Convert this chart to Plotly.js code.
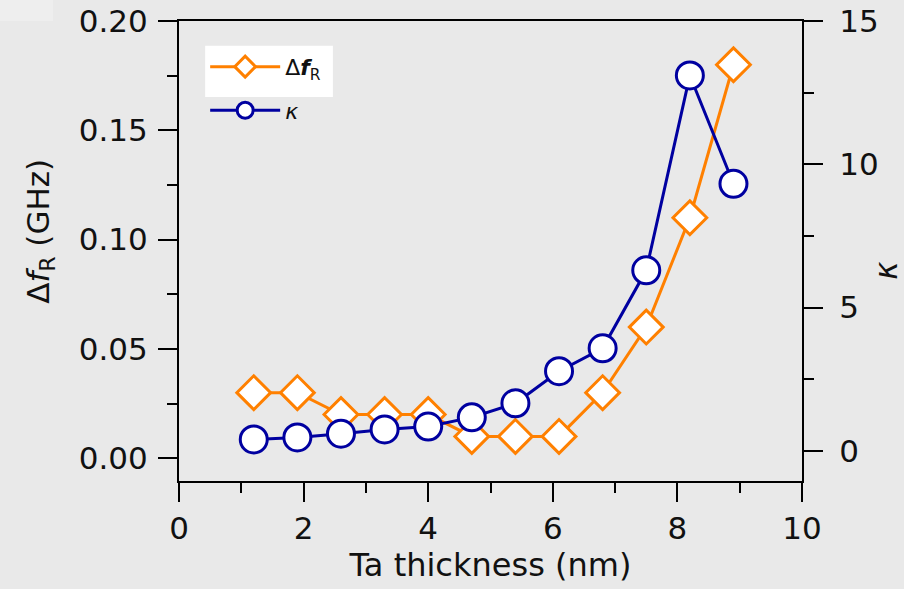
<!DOCTYPE html>
<html>
<head>
<meta charset="utf-8">
<script src="https://cdn.plot.ly/plotly-3.0.1.min.js"></script>
<style>html,body{margin:0;padding:0;background:#e9e9e9;}#chart{width:904px;height:589px;}</style>
</head>
<body>
<div id="chart"></div>
<script>
const thickness = [1.2, 1.9, 2.6, 3.3, 4.0, 4.7, 5.4, 6.1, 6.8, 7.5, 8.2, 8.9];
const deltaFR = [0.03, 0.03, 0.02, 0.02, 0.02, 0.01, 0.01, 0.01, 0.03, 0.06, 0.11, 0.18];
const kappa = [0.40, 0.47, 0.60, 0.75, 0.85, 1.17, 1.66, 2.78, 3.58, 6.3, 13.1, 9.32];
const xTicks = [0, 2, 4, 6, 8, 10];
const yTicks = [0.00, 0.05, 0.10, 0.15, 0.20];
const y2Ticks = [0, 5, 10, 15];

const ORANGE = '#ff8000';
const NAVY = '#0000a0';
const FONT = 'DejaVu Sans, Liberation Sans, Arial, sans-serif';
const PAD = '<span style="color:rgba(0,0,0,0)">00</span>';

const traces = [
  {
    x: thickness, y: deltaFR, name: 'Δ<b><i>f</i></b><sub>R</sub>', legendgroup: 'a',
    type: 'scatter', mode: 'lines+markers', yaxis: 'y',
    line: {color: ORANGE, width: 3},
    marker: {symbol: 'diamond', size: 26, color: 'white', line: {color: ORANGE, width: 3}}
  },
  {
    x: thickness, y: kappa, name: '<i>κ</i>', legendgroup: 'b',
    type: 'scatter', mode: 'lines+markers', yaxis: 'y2',
    line: {color: NAVY, width: 3},
    marker: {symbol: 'circle', size: 27, color: 'white', line: {color: NAVY, width: 3}}
  }
];

const axisCommon = {
  showgrid: false, zeroline: false, showline: true, linecolor: 'black', linewidth: 2,
  ticks: 'outside', ticklen: 19, tickwidth: 2, tickcolor: 'black',
  tickfont: {family: FONT, size: 31, color: '#111'}
};

const layout = {
  width: 904, height: 589,
  paper_bgcolor: '#e9e9e9', plot_bgcolor: '#e9e9e9',
  margin: {l: 179, r: 102, t: 21, b: 108},
  showlegend: true,
  font: {family: FONT, color: '#111'},
  xaxis: Object.assign({}, axisCommon, {
    range: [0, 10], tickvals: xTicks, ticktext: xTicks.map(String), mirror: true,
    ticklabelstandoff: 0,
    minor: {dtick: 1, tick0: 0, ticks: 'outside', ticklen: 10, tickwidth: 2, tickcolor: 'black'},
    title: {text: 'Ta thickness (nm)', font: {family: FONT, size: 32, color: '#111'}, standoff: 4}
  }),
  yaxis: Object.assign({}, axisCommon, {
    range: [-0.0104, 0.20], tickvals: yTicks, ticktext: yTicks.map(v => v.toFixed(2)),
    ticklabelstandoff: 4,
    minor: {dtick: 0.025, tick0: 0, ticks: 'outside', ticklen: 10, tickwidth: 2, tickcolor: 'black'},
    title: {text: PAD + 'Δ<i>f</i><sub>R</sub> (GHz)', font: {family: FONT, size: 31, color: '#111'}, standoff: 20}
  }),
  yaxis2: Object.assign({}, axisCommon, {
    overlaying: 'y', side: 'right',
    range: [-1.05, 15], tickvals: y2Ticks, ticktext: y2Ticks.map(String),
    ticklabelstandoff: 10,
    minor: {dtick: 2.5, tick0: 0, ticks: 'outside', ticklen: 10, tickwidth: 2, tickcolor: 'black'},
    title: {text: '<i>κ</i>' + PAD, font: {family: FONT, size: 31, color: '#111'}, standoff: 10}
  }),
  legend: {
    x: 0.042, y: 0.946, xanchor: 'left', yanchor: 'top',
    bgcolor: 'rgba(0,0,0,0)', borderwidth: 0,
    font: {family: FONT, size: 22, color: '#111'},
    itemwidth: 70, tracegroupgap: 12, traceorder: 'grouped'
  },
  shapes: [
    {type: 'rect', xref: 'paper', yref: 'paper', x0: 0.042, x1: 0.247, y0: 0.835, y1: 0.946,
     fillcolor: 'white', line: {width: 0}, layer: 'below'},
    {type: 'rect', xref: 'paper', yref: 'paper', x0: -0.2873, x1: -0.2022, y0: 1.0, y1: 1.0457,
     fillcolor: '#eeeeee', line: {width: 0}, layer: 'below'}
  ]
};

Plotly.newPlot('chart', traces, layout, {displayModeBar: false, staticPlot: true});
</script>
</body>
</html>
